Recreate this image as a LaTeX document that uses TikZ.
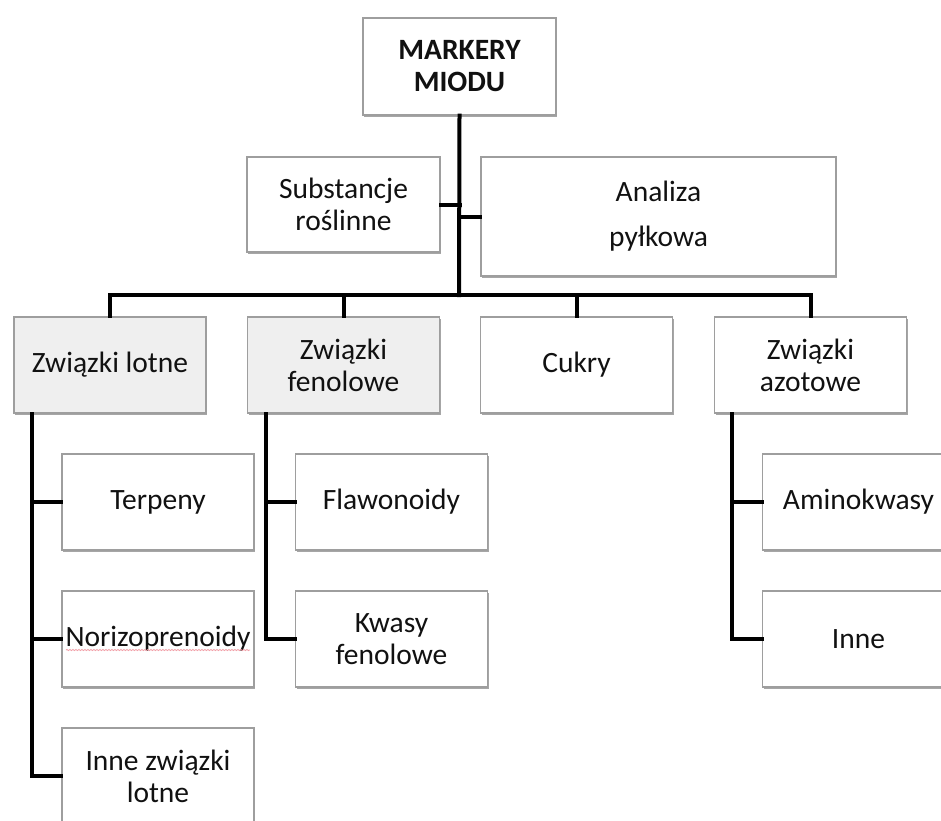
\documentclass[tikz,border=0pt]{standalone}
\usepackage{fontspec}
\setmainfont{Carlito}
\usetikzlibrary{shadows,decorations.pathmorphing,calc}
\definecolor{boxline}{HTML}{9E9E9E}
\definecolor{boxgrey}{HTML}{EFEFEF}
\definecolor{txt}{HTML}{111111}
\definecolor{spell}{HTML}{F2A0A8}
\tikzset{
  box/.style={draw=boxline, line width=1.2pt, fill=white, text=txt,
    minimum width=192pt, minimum height=96pt, inner sep=0pt, align=center,
    font=\fontsize{29.5pt}{32pt}\selectfont,
    drop shadow={shadow xshift=1.2pt, shadow yshift=-2.2pt, fill=black, opacity=0.35}},
  greybox/.style={box, fill=boxgrey},
  conn/.style={line width=4pt, black, line cap=rect}
}
\begin{document}
\begin{tikzpicture}[x=1pt, y=-1pt]
\useasboundingbox (0,0) rectangle (941,820);
\clip (0,0) rectangle (941,820);
\fill[white] (0,0) rectangle (941,820);

% top
\node[box, minimum width=193pt, minimum height=97pt, font=\fontsize{29.5pt}{32pt}\selectfont\bfseries] (top) at (459.5,66.5) {MARKERY\\MIODU};
\node[box, minimum width=193pt, minimum height=95pt] (subst) at (343.5,204.5) {Substancje\\roślinne};
\node[box, minimum width=355pt, minimum height=119pt] (anal) at (658.5,216.5) {Analiza\\[13pt]pyłkowa};

% second row
\node[greybox] (lotne) at (110,365) {Związki lotne};
\node[greybox] (fenol) at (343.5,365) {Związki\\fenolowe};
\node[box] (cukry) at (576.5,365) {Cukry};
\node[box] (azot) at (810.5,365) {Związki\\azotowe};

% third level
\node[box] (terp) at (158,502) {Terpeny};
\node[box] (noriz) at (158,639) {Norizoprenoidy};
\node[box] (innel) at (158,776) {Inne związki\\lotne};
\node[box] (flaw) at (391.5,502) {Flawonoidy};
\node[box] (kwasy) at (391.5,639) {Kwasy\\fenolowe};
\node[box] (amino) at (858.5,502) {Aminokwasy};
\node[box] (inne) at (858.5,639) {Inne};

\draw[spell, line width=0.8pt, decorate, decoration={snake, amplitude=0.6pt, segment length=3pt}]
  ($(noriz.center)+(-92,11)$) -- ($(noriz.center)+(92,11)$);

% connectors
\coordinate (bus) at (459,295);
\coordinate (lv) at (32,0);
\coordinate (fv) at (266,0);
\coordinate (av) at (732,0);

\draw[conn] (top.south) -- (bus);
\draw[conn] (subst.east) -- (subst.east -| top.south);
\draw[conn] (anal.west -| top.south) -- (anal.west);
\draw[conn] (lotne.north |- bus) -- (azot.north |- bus);
\draw[conn] (lotne.north |- bus) -- (lotne.north);
\draw[conn] (fenol.north |- bus) -- (fenol.north);
\draw[conn] (cukry.north |- bus) -- (cukry.north);
\draw[conn] (azot.north |- bus) -- (azot.north);

\draw[conn] (lotne.south -| lv) |- (innel.west);
\draw[conn] (terp.west -| lv) -- (terp.west);
\draw[conn] (noriz.west -| lv) -- (noriz.west);

\draw[conn] (fenol.south -| fv) |- (kwasy.west);
\draw[conn] (flaw.west -| fv) -- (flaw.west);

\draw[conn] (azot.south -| av) |- (inne.west);
\draw[conn] (amino.west -| av) -- (amino.west);
\end{tikzpicture}
\end{document}
